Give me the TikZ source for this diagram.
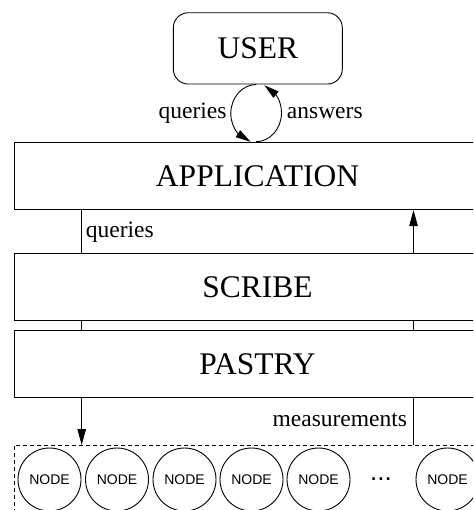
\documentclass[tikz,border=0pt]{standalone}
\usepackage{fontspec}
\setmainfont{Liberation Serif}
\setsansfont{Liberation Sans}
\usetikzlibrary{arrows.meta,bending}
\begin{document}
\begin{tikzpicture}[x=1pt,y=1pt,
  line width=0.9pt,
  bigtext/.style={font=\fontsize{31.5}{36}\selectfont},
  labeltext/.style={font=\fontsize{23.5}{28}\selectfont, inner sep=0pt},
  layer/.style={draw, bigtext, minimum width=487pt, minimum height=67.5pt, inner sep=0pt},
  peer/.style={draw, circle, minimum size=63pt, inner sep=0pt, font=\sffamily\fontsize{14}{16}\selectfont},
  bigarrow/.style={-{Triangle[length=16pt,width=8.5pt]}},
  looparrow/.style={-{Triangle[length=15pt,width=8pt]}}]
\useasboundingbox (0,0) rectangle (473,-510);
\clip (0,0) rectangle (473,-510);

% user and the protocol stack
\node[draw, rounded corners=15pt, bigtext, minimum width=169pt, minimum height=71.3pt, inner sep=0pt] (user) at (257.8,-48.4) {USER};
\node[layer] (app) at (257.5,-175.9) {APPLICATION};
\node[layer] (scribe) at (257.5,-287) {SCRIBE};
\node[layer] (pastry) at (257.5,-363.8) {PASTRY};

% overlay network of peers
\node[draw, dashed, dash pattern=on 4pt off 3pt, anchor=north west, minimum width=520pt, minimum height=100pt, inner sep=0pt] (net) at (14,-445) {};
\node[peer] (n1) at (49.5,-479.5) {NODE};
\node[peer] (n2) at (117,-479.5) {NODE};
\node[peer] (n3) at (184.5,-479.5) {NODE};
\node[peer] (n4) at (251.5,-479.5) {NODE};
\node[peer] (n5) at (318.5,-479.5) {NODE};
\node[font=\sffamily\fontsize{26}{30}\selectfont, anchor=base, inner sep=0pt] (dots) at (381,-480.5) {...};
\node[peer] (n6) at (447.5,-479.5) {NODE};

% query / answer loop between user and application
\draw[looparrow] ([xshift=-1.5pt]user.south) arc[start angle=90, end angle=257, x radius=25.5, y radius=29];
\draw[looparrow] ([xshift=-1.5pt]app.north) arc[start angle=-90, end angle=71, x radius=25.5, y radius=29];
\node[labeltext, anchor=base east] (lq) at (227,-119) {queries};
\node[labeltext, anchor=base west] (la) at (286.5,-119) {answers};

% query path down the stack
\coordinate (lx) at (81.7,0);
\coordinate (rx) at (413.5,0);
\draw (app.south -| lx) -- (scribe.north -| lx);
\draw (scribe.south -| lx) -- (pastry.north -| lx);
\draw[bigarrow] (pastry.south -| lx) -- (net.north -| lx);
\node[labeltext, anchor=base west] (lq2) at (85.5,-237.7) {queries};

% measurement path up the stack
\draw (net.north -| rx) -- (pastry.south -| rx);
\draw (pastry.north -| rx) -- (scribe.south -| rx);
\draw[bigarrow] (scribe.north -| rx) -- (app.south -| rx);
\node[labeltext, anchor=base east] (lm) at (407.5,-426.7) {measurements};
\end{tikzpicture}
\end{document}
